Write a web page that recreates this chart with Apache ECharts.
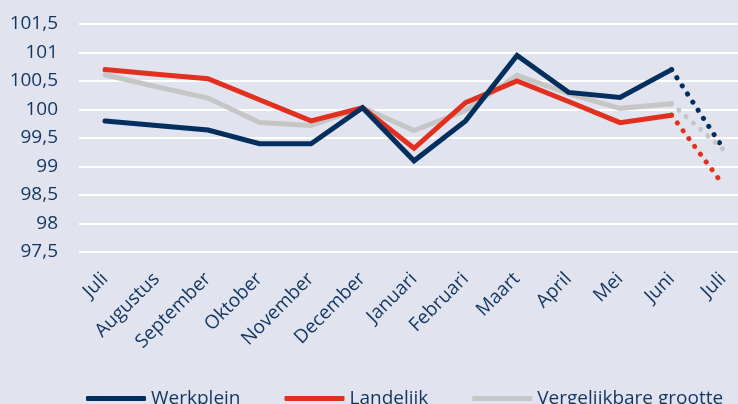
<!DOCTYPE html>
<html>
<head>
<meta charset="utf-8">
<script src="https://cdn.jsdelivr.net/npm/echarts@6/dist/echarts.min.js"></script>
<style>
  html, body { margin: 0; padding: 0; background: #e1e3ef; }
  #chart { width: 738px; height: 404px; }
</style>
</head>
<body>
<div id="chart"></div>
<script>
const months = ['Juli', 'Augustus', 'September', 'Oktober', 'November', 'December',
  'Januari', 'Februari', 'Maart', 'April', 'Mei', 'Juni', 'Juli']

// solid part (Juli .. Juni), last Juli only in the dotted part
const werkplein = [99.8, 99.72, 99.64, 99.4, 99.4, 100.03, 99.1, 99.8, 100.95, 100.3, 100.21, 100.7, null]
const landelijk = [100.7, 100.62, 100.54, 100.17, 99.8, 100.03, 99.32, 100.12, 100.5, 100.14, 99.77, 99.9, null]
const vergelijkbaar = [100.61, 100.4, 100.2, 99.77, 99.72, 100.03, 99.63, 99.98, 100.6, 100.28, 100.02, 100.1, null]

// dotted forecast Juni -> Juli
const werkpleinProg = [null, null, null, null, null, null, null, null, null, null, null, 100.7, 99.32]
const landelijkProg = [null, null, null, null, null, null, null, null, null, null, null, 99.9, 98.68]
const vergelijkbaarProg = [null, null, null, null, null, null, null, null, null, null, null, 100.1, 99.3]

const navy = '#032f5f'
const red = '#e2301f'
const grey = '#c6c6c7'
const textColor = '#11365f'
const font = 'Open Sans'

const myChart = echarts.init(document.getElementById('chart'))

// x is the month index, so the plot can run past the last month like the original
const toPoints = (arr) => arr.map((v, i) => [i, v])
const monthIdx = months.map((m, i) => i)

const solid = (name, data, color) => ({
  name: name,
  type: 'line',
  data: toPoints(data),
  showSymbol: false,
  symbol: 'none',
  lineStyle: { color: color, width: 5, cap: 'round', join: 'miter' },
  itemStyle: { color: color }
})

const dotted = (name, data, color) => ({
  name: name,
  type: 'line',
  data: toPoints(data),
  showSymbol: false,
  symbol: 'none',
  lineStyle: { color: color, width: 5, type: [0.1, 9.6], cap: 'round' },
  itemStyle: { color: color }
})

myChart.setOption({
  backgroundColor: '#e1e3ef',
  animation: false,
  grid: { left: 79, right: 0, top: 24, bottom: 152 },
  legend: {
    data: ['Werkplein', 'Landelijk', 'Vergelijkbare grootte'],
    left: 81,
    top: 384,
    itemWidth: 60,
    itemHeight: 5,
    itemGap: 44,
    icon: 'roundRect',
    textStyle: { color: textColor, fontSize: 19, fontFamily: font }
  },
  xAxis: {
    type: 'value',
    min: -0.505,
    max: 12.29,
    axisLine: { show: false },
    axisTick: { show: false },
    splitLine: { show: false },
    axisLabel: {
      customValues: monthIdx,
      formatter: v => months[Math.round(v)],
      rotate: 45,
      margin: 24,
      color: textColor,
      fontSize: 19,
      fontFamily: font
    }
  },
  yAxis: {
    type: 'value',
    min: 97.5,
    max: 101.5,
    interval: 0.5,
    axisLine: { show: false },
    axisTick: { show: false },
    splitLine: { lineStyle: { color: '#ffffff', width: 2 } },
    axisLabel: {
      margin: 21,
      color: textColor,
      fontSize: 19,
      fontFamily: font,
      formatter: v => String(v).replace('.', ',')
    }
  },
  series: [
    solid('Vergelijkbare grootte', vergelijkbaar, grey),
    solid('Landelijk', landelijk, red),
    solid('Werkplein', werkplein, navy),
    dotted('Werkplein prognose', werkpleinProg, navy),
    dotted('Landelijk prognose', landelijkProg, red),
    dotted('Vergelijkbare grootte prognose', vergelijkbaarProg, grey)
  ]
})

window.onresize = () => {
  myChart.resize()
}
</script>
</body>
</html>
